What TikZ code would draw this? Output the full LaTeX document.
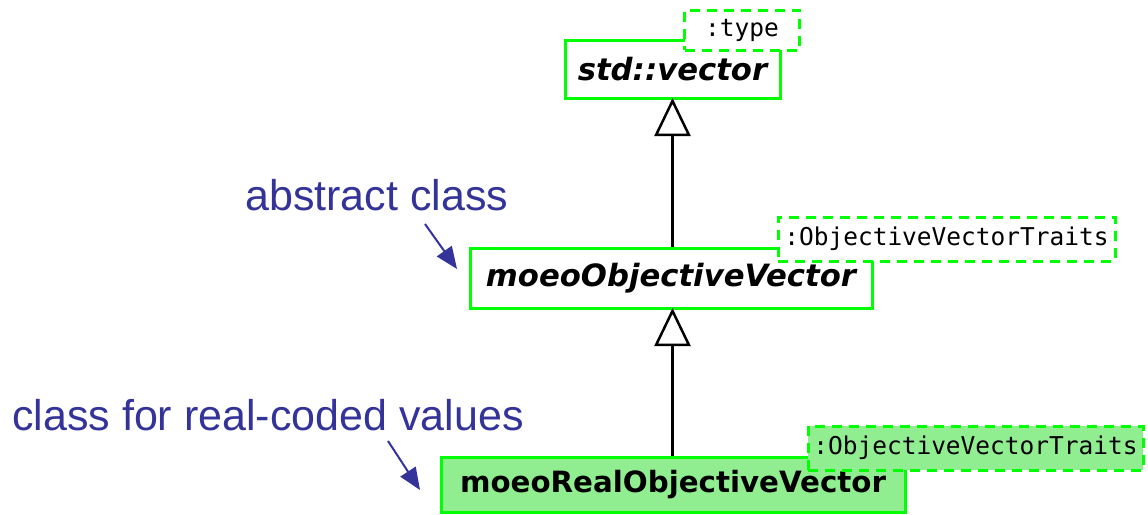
\documentclass[tikz,border=0pt]{standalone}
\usepackage{fontspec}
\newfontfamily\boxfont{DejaVu Sans}
\newfontfamily\tmplfont{DejaVu Sans Mono}
\newfontfamily\labfont{Liberation Sans}
\usetikzlibrary{arrows.meta}
\definecolor{umlgreen}{RGB}{0,255,0}
\definecolor{lightgreenfill}{RGB}{144,238,144}
\definecolor{annblue}{RGB}{51,51,153}
\begin{document}
\begin{tikzpicture}[x=1pt,y=-1pt,
  classbox/.style={draw=umlgreen, line width=3pt, fill=white, rectangle, inner sep=0pt,
    font=\boxfont\bfseries\fontsize{30.7}{36}\selectfont},
  tmplbox/.style={draw=umlgreen, line width=3pt, dash pattern=on 10pt off 7pt, fill=white,
    rectangle, inner sep=0pt, font=\tmplfont\fontsize{24.5}{28}\selectfont},
  inh/.style={line width=3pt, draw=black, -{Triangle[fill=white, length=38pt, width=36pt, line width=2.5pt]}},
  annlabel/.style={text=annblue, font=\labfont\fontsize{43}{48}\selectfont, inner sep=0pt},
  annarrow/.style={draw=annblue, line width=2pt, -{Triangle[length=22pt, width=18pt]}}
]
\useasboundingbox[fill=white] (0,0) rectangle (1148,514);

% classes
\node[classbox, minimum width=215pt, minimum height=58pt] (vec) at (672.5,69) {\itshape std::vector};
\node[tmplbox, minimum width=115pt, minimum height=40pt] (vect) at (742,30) {:type};

\node[classbox, minimum width=402pt, minimum height=60pt] (mov) at (671,278) {\itshape moeoObjectiveVector};
\node[tmplbox, minimum width=337pt, minimum height=44pt] (movt) at (946.5,239) {:ObjectiveVectorTraits};

\node[classbox, fill=lightgreenfill, minimum width=464pt, minimum height=55pt,
  font=\boxfont\bfseries\fontsize{29.3}{34}\selectfont] (mrov) at (673,484.5) {moeoRealObjectiveVector};
\node[tmplbox, fill=lightgreenfill, minimum width=335pt, minimum height=44pt] (mrovt) at (975.5,448) {:ObjectiveVectorTraits};

% inheritance
\draw[inh] (mov.north -| vec.south) -- ([yshift=1.5pt]vec.south);
\draw[inh] (mrov.north -| vec.south) -- ([yshift=1.5pt]mov.south -| vec.south);

% annotations
\node[annlabel, anchor=west] (abs) at (245,195) {abstract class};
\node[annlabel, anchor=west] (real) at (12,415) {class for real-coded values};
\coordinate (absend) at (457,269);
\coordinate (realend) at (420,490);
\draw[annarrow] (abs.south -| 425,0) ++(0,13) -- (absend);
\draw[annarrow] (real.south -| 388,0) ++(0,10) -- (realend);
\end{tikzpicture}
\end{document}
